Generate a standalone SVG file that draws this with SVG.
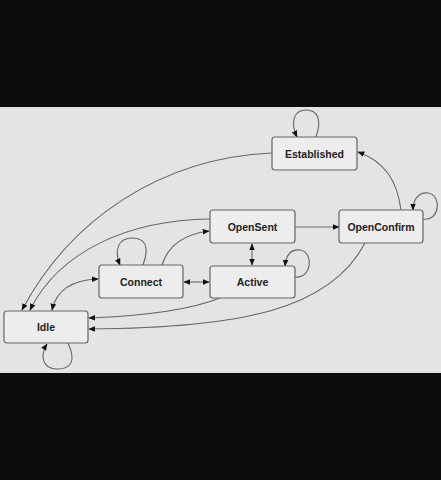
<svg xmlns="http://www.w3.org/2000/svg" width="441" height="480" viewBox="0 0 441 480">
<defs>
<marker id="ah" viewBox="0 0 10 10" refX="9" refY="5" markerWidth="7" markerHeight="7" markerUnits="userSpaceOnUse" orient="auto-start-reverse">
<path d="M0,1 L10,5 L0,9 z" fill="#111"/>
</marker>
<style>
.n rect{fill:#ededed;stroke:#666;stroke-width:1.2}
.n text{font-family:"Liberation Sans",Arial,sans-serif;font-weight:bold;font-size:10.5px;fill:#222;text-anchor:middle;dominant-baseline:central}
.e path{fill:none;stroke:#666;stroke-width:1.1}
.a{marker-end:url(#ah)}
.b{marker-start:url(#ah);marker-end:url(#ah)}
</style>
</defs>
<rect x="0" y="0" width="441" height="480" fill="#0c0c0c"/>
<rect x="0" y="107" width="441" height="266" fill="#e4e4e4"/>
<g id="edges" class="e">
<path class="a" d="M316,137 C322,120 318,110 306,110 C294,110 290,122 297,137"/>
<path class="a" d="M401,210 C397,180 385,162 358,152"/>
<path class="a" d="M423,219 C440,222 442,195 428,193 C418,192 413,200 413,210"/>
<path class="a" d="M295,227 L339,227"/>
<path class="a" d="M272,153 C160,158 70,220 22,310"/>
<path class="a" d="M210,219 C130,220 60,250 30,310"/>
<path class="a" d="M143,265 C150,246 145,238 132,238 C118,238 114,250 120,265"/>
<path class="a" d="M162,265 C168,246 184,234 209,231"/>
<path class="b" d="M52,310 C56,292 70,280 98,279"/>
<path class="b" d="M184,282 L209,282"/>
<path class="b" d="M252,244 L252,265"/>
<path class="a" d="M295,277 C312,279 314,252 300,250 C290,249 286,256 285,266"/>
<path class="a" d="M220,298 C190,310 140,316 89,318"/>
<path class="a" d="M365,243 C330,310 240,328 89,329"/>
<path class="a" d="M68,343 C76,360 72,369 57,369 C42,369 40,355 47,344"/>
</g>
<g id="Established" class="n"><rect x="272" y="137" width="85" height="33" rx="3"/><text x="314.5" y="153.5">Established</text></g>
<g id="OpenSent" class="n"><rect x="210" y="210" width="85" height="33" rx="3"/><text x="252.5" y="226.5">OpenSent</text></g>
<g id="OpenConfirm" class="n"><rect x="339" y="210" width="84" height="33" rx="3"/><text x="381" y="226.5">OpenConfirm</text></g>
<g id="Connect" class="n"><rect x="99" y="265" width="84" height="33" rx="3"/><text x="141" y="281.5">Connect</text></g>
<g id="Active" class="n"><rect x="210" y="266" width="85" height="32" rx="3"/><text x="252.5" y="282">Active</text></g>
<g id="Idle" class="n"><rect x="4" y="311" width="84" height="32" rx="3"/><text x="46" y="327">Idle</text></g>
</svg>
